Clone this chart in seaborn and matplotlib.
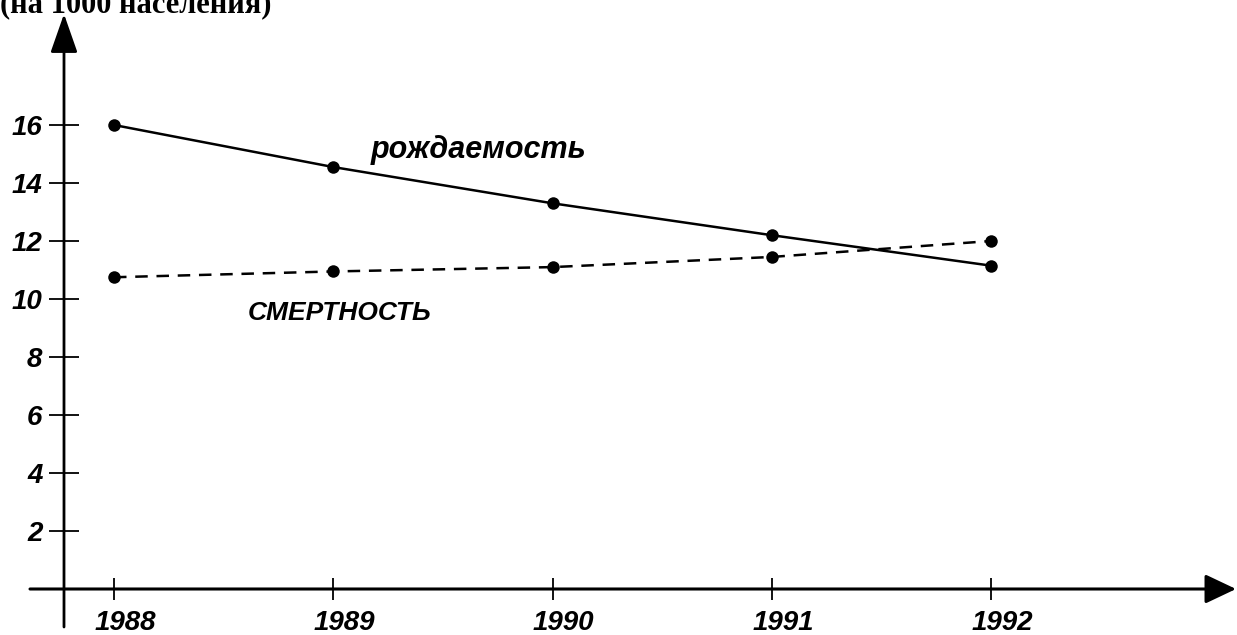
#!/usr/bin/env python3
"""
Birth rate vs death rate, 1988-1992 (per 1000 population)
"""
import matplotlib
matplotlib.use('Agg')  # no display
import matplotlib.pyplot as plt
from matplotlib.transforms import ScaledTranslation
import pandas as pd
import seaborn as sns

# data
years = [1988, 1989, 1990, 1991, 1992]
birth_rate = [16.0, 14.55, 13.3, 12.2, 11.15]
death_rate = [10.75, 10.95, 11.1, 11.45, 12.0]
y_ticks = [2, 4, 6, 8, 10, 12, 14, 16]
title = '(на 1000 населения)'
birth_label = 'рождаемость'
death_label = 'СМЕРТНОСТЬ'

# canvas layout (pixels)
W, H = 1237, 635
X0_PX, YEAR_PX = 114, 219.25   # first year position, pixels per year
Y0_PX, UNIT_PX = 589, 29       # zero line position, pixels per unit
AXIS_X_PX = 64


def fr(x, y):
    """pixel (from top-left) -> axes fraction"""
    return (x / W, 1 - y / H)


sns.set_style('white')
plt.rcParams['font.family'] = ['Liberation Sans', 'DejaVu Sans']
plt.rcParams['text.color'] = 'black'

df = pd.DataFrame({'year': years * 2,
                   'value': birth_rate + death_rate,
                   'series': ['birth'] * len(years) + ['death'] * len(years)})

fig = plt.figure(figsize=(W / 100, H / 100), dpi=100)
ax = fig.add_axes([0, 0, 1, 1])

sns.lineplot(data=df, x='year', y='value', style='series',
             dashes={'birth': '', 'death': (5, 3.5)},
             markers={'birth': 'o', 'death': 'o'},
             color='black', lw=1.8, markersize=9, markeredgewidth=0,
             legend=False, ax=ax)

ax.set_xlim(years[0] - X0_PX / YEAR_PX, years[0] + (W - X0_PX) / YEAR_PX)
ax.set_ylim(-(H - Y0_PX) / UNIT_PX, Y0_PX / UNIT_PX)
ax.set_xlabel('')
ax.set_ylabel('')

# axes cross at the origin, drawn as arrows
for side in ['top', 'right', 'left', 'bottom']:
    ax.spines[side].set_visible(False)
ax.spines['left'].set_position(('axes', AXIS_X_PX / W))
ax.spines['bottom'].set_position(('axes', 1 - Y0_PX / H))

ax.annotate('', xy=fr(1236, Y0_PX), xytext=fr(30, Y0_PX),
            xycoords='axes fraction', textcoords='axes fraction',
            arrowprops=dict(arrowstyle='-|>,head_length=0.95,head_width=0.45',
                            lw=2.2, color='black', shrinkA=0, shrinkB=0,
                            mutation_scale=20))
ax.annotate('', xy=fr(AXIS_X_PX, 14), xytext=fr(AXIS_X_PX, 627),
            xycoords='axes fraction', textcoords='axes fraction',
            arrowprops=dict(arrowstyle='-|>,head_length=1.2,head_width=0.42',
                            lw=2.0, color='black', shrinkA=0, shrinkB=0,
                            mutation_scale=20))

ax.set_xticks(years)
ax.set_xticklabels([str(y) for y in years])
ax.set_yticks(y_ticks)
ax.set_yticklabels([str(v) for v in y_ticks])
ax.tick_params(axis='x', bottom=True, direction='inout', length=16, width=1.3,
               pad=7, labelsize=20, colors='black')
ax.tick_params(axis='y', left=True, direction='inout', length=21, width=1.3,
               pad=5, labelsize=20, colors='black')
for lab in ax.get_xticklabels() + ax.get_yticklabels():
    lab.set_fontweight('bold')
    lab.set_fontstyle('italic')
for lab in ax.get_xticklabels():
    lab.set_transform(lab.get_transform() + ScaledTranslation(8 / 72, 0, fig.dpi_scale_trans))

# series names
ax.text(*fr(479, 150), birth_label, transform=ax.transAxes, ha='center', va='center',
        fontsize=22, fontweight='bold', fontstyle='italic', color='black')
ax.text(*fr(340, 313), death_label, transform=ax.transAxes, ha='center', va='center',
        fontsize=19, fontweight='bold', fontstyle='italic', color='black')

# heading, cut off by the top edge as in the source
ax.text(*fr(0, 12), title, transform=ax.transAxes, ha='left', va='baseline',
        fontsize=22, fontweight='bold', color='black',
        family=['Liberation Serif', 'DejaVu Serif'])

plt.savefig('out.png', dpi=100)
plt.close()
